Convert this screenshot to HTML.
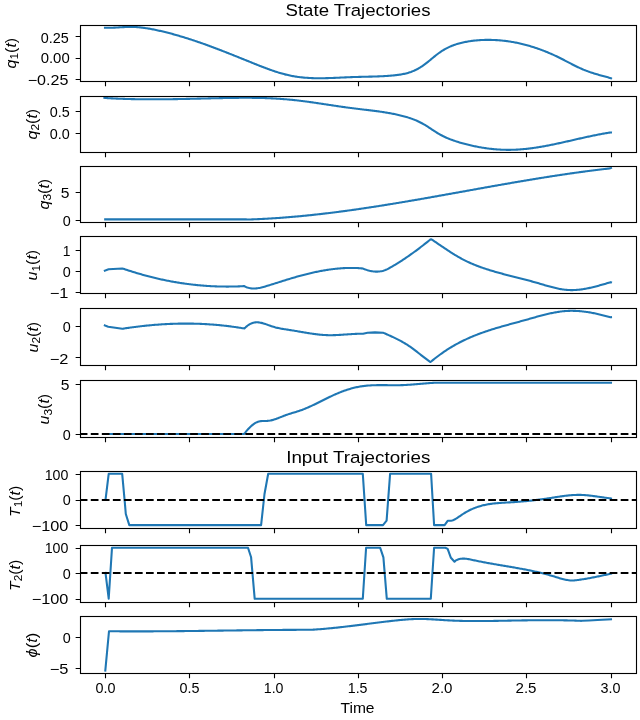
<!DOCTYPE html>
<html><head><meta charset="utf-8"><title>State and Input Trajectories</title>
<style>html,body{margin:0;padding:0;background:#fff;width:640px;height:720px;overflow:hidden}svg{display:block;will-change:transform}text{font-family:"Liberation Sans",sans-serif;fill:#000}</style></head>
<body>
<svg width="640" height="720" viewBox="0 0 640 720">
<rect x="0" y="0" width="640" height="720" fill="#fff"/>
<g>
<clipPath id="c0"><rect x="80.5" y="25.5" width="556" height="56"/></clipPath>
<path d="M104.97 27.8 L105.97 27.79 L106.97 27.81 L107.97 27.82 L108.97 27.81 L109.97 27.8 L110.97 27.77 L111.97 27.74 L112.97 27.7 L113.97 27.66 L114.97 27.61 L115.97 27.56 L116.97 27.5 L117.97 27.44 L118.97 27.38 L119.97 27.32 L120.97 27.27 L121.97 27.21 L122.97 27.15 L123.97 27.1 L124.97 27.05 L125.97 27.01 L126.97 26.98 L127.97 26.95 L128.97 26.93 L129.97 26.92 L130.97 26.92 L131.97 26.93 L132.97 26.95 L133.97 26.98 L134.97 27.02 L135.97 27.08 L136.97 27.14 L137.97 27.22 L138.97 27.3 L139.97 27.4 L140.97 27.5 L141.97 27.62 L142.97 27.74 L143.97 27.87 L144.97 28.01 L145.97 28.16 L146.97 28.31 L147.97 28.48 L148.97 28.64 L149.97 28.82 L150.97 29 L151.97 29.19 L152.97 29.38 L153.97 29.58 L154.97 29.79 L155.97 30 L156.97 30.21 L157.97 30.43 L158.97 30.65 L159.97 30.87 L160.97 31.1 L161.97 31.34 L162.97 31.57 L163.97 31.81 L164.97 32.06 L165.97 32.3 L166.97 32.56 L167.97 32.81 L168.97 33.07 L169.97 33.33 L170.97 33.59 L171.97 33.86 L172.97 34.13 L173.97 34.41 L174.97 34.69 L175.97 34.97 L176.97 35.25 L177.97 35.54 L178.97 35.83 L179.97 36.13 L180.97 36.42 L181.97 36.72 L182.97 37.02 L183.97 37.33 L184.97 37.64 L185.97 37.95 L186.97 38.26 L187.97 38.58 L188.97 38.9 L189.97 39.22 L190.97 39.55 L191.97 39.87 L192.97 40.2 L193.97 40.54 L194.97 40.87 L195.97 41.21 L196.97 41.55 L197.97 41.89 L198.97 42.24 L199.97 42.58 L200.97 42.93 L201.97 43.28 L202.97 43.64 L203.97 43.99 L204.97 44.35 L205.97 44.71 L206.97 45.07 L207.97 45.44 L208.97 45.8 L209.97 46.17 L210.97 46.54 L211.97 46.91 L212.97 47.28 L213.97 47.66 L214.97 48.03 L215.97 48.41 L216.97 48.79 L217.97 49.17 L218.97 49.56 L219.97 49.94 L220.97 50.33 L221.97 50.72 L222.97 51.1 L223.97 51.49 L224.97 51.89 L225.97 52.28 L226.97 52.67 L227.97 53.07 L228.97 53.46 L229.97 53.86 L230.97 54.26 L231.97 54.65 L232.97 55.05 L233.97 55.45 L234.97 55.85 L235.97 56.25 L236.97 56.66 L237.97 57.06 L238.97 57.46 L239.97 57.86 L240.97 58.27 L241.97 58.67 L242.97 59.07 L243.97 59.48 L244.97 59.88 L245.97 60.29 L246.97 60.69 L247.97 61.09 L248.97 61.5 L249.97 61.9 L250.97 62.31 L251.97 62.71 L252.97 63.11 L253.97 63.52 L254.97 63.92 L255.97 64.32 L256.97 64.72 L257.97 65.12 L258.97 65.51 L259.97 65.91 L260.97 66.3 L261.97 66.69 L262.97 67.08 L263.97 67.46 L264.97 67.84 L265.97 68.22 L266.97 68.59 L267.97 68.96 L268.97 69.32 L269.97 69.69 L270.97 70.04 L271.97 70.39 L272.97 70.74 L273.97 71.08 L274.97 71.41 L275.97 71.74 L276.97 72.06 L277.97 72.37 L278.97 72.68 L279.97 72.98 L280.97 73.27 L281.97 73.56 L282.97 73.84 L283.97 74.11 L284.97 74.37 L285.97 74.62 L286.97 74.86 L287.97 75.1 L288.97 75.32 L289.97 75.54 L290.97 75.74 L291.97 75.94 L292.97 76.13 L293.97 76.3 L294.97 76.47 L295.97 76.63 L296.97 76.78 L297.97 76.92 L298.97 77.05 L299.97 77.18 L300.97 77.29 L301.97 77.4 L302.97 77.5 L303.97 77.6 L304.97 77.68 L305.97 77.76 L306.97 77.83 L307.97 77.9 L308.97 77.96 L309.97 78.01 L310.97 78.06 L311.97 78.1 L312.97 78.14 L313.97 78.17 L314.97 78.19 L315.97 78.21 L316.97 78.22 L317.97 78.23 L318.97 78.24 L319.97 78.24 L320.97 78.23 L321.97 78.23 L322.97 78.22 L323.97 78.2 L324.97 78.18 L325.97 78.16 L326.97 78.14 L327.97 78.11 L328.97 78.08 L329.97 78.05 L330.97 78.01 L331.97 77.98 L332.97 77.94 L333.97 77.9 L334.97 77.85 L335.97 77.81 L336.97 77.77 L337.97 77.72 L338.97 77.68 L339.97 77.63 L340.97 77.58 L341.97 77.54 L342.97 77.49 L343.97 77.45 L344.97 77.4 L345.97 77.35 L346.97 77.31 L347.97 77.27 L348.97 77.22 L349.97 77.18 L350.97 77.14 L351.97 77.11 L352.97 77.07 L353.97 77.04 L354.97 77.01 L355.97 76.98 L356.97 76.95 L357.97 76.92 L358.97 76.9 L359.97 76.87 L360.97 76.85 L361.97 76.82 L362.97 76.8 L363.97 76.78 L364.97 76.76 L365.97 76.73 L366.97 76.71 L367.97 76.69 L368.97 76.66 L369.97 76.64 L370.97 76.61 L371.97 76.59 L372.97 76.56 L373.97 76.53 L374.97 76.5 L375.97 76.47 L376.97 76.43 L377.97 76.39 L378.97 76.36 L379.97 76.31 L380.97 76.27 L381.97 76.22 L382.97 76.17 L383.97 76.12 L384.97 76.06 L385.97 76 L386.97 75.94 L387.97 75.87 L388.97 75.8 L389.97 75.72 L390.97 75.64 L391.97 75.55 L392.97 75.46 L393.97 75.36 L394.97 75.26 L395.97 75.15 L396.97 75.03 L397.97 74.89 L398.97 74.75 L399.97 74.6 L400.97 74.44 L401.97 74.27 L402.97 74.08 L403.97 73.88 L404.97 73.66 L405.97 73.42 L406.97 73.16 L407.97 72.88 L408.97 72.58 L409.97 72.26 L410.97 71.92 L411.97 71.54 L412.97 71.14 L413.97 70.72 L414.97 70.26 L415.97 69.78 L416.97 69.27 L417.97 68.73 L418.97 68.16 L419.97 67.57 L420.97 66.95 L421.97 66.3 L422.97 65.62 L423.97 64.92 L424.97 64.19 L425.97 63.43 L426.97 62.65 L427.97 61.85 L428.97 61.03 L429.97 60.21 L430.97 59.38 L431.97 58.54 L432.97 57.71 L433.97 56.89 L434.97 56.08 L435.97 55.28 L436.97 54.5 L437.97 53.75 L438.97 53.02 L439.97 52.31 L440.97 51.64 L441.97 50.99 L442.97 50.36 L443.97 49.76 L444.97 49.18 L445.97 48.63 L446.97 48.1 L447.97 47.6 L448.97 47.12 L449.97 46.66 L450.97 46.23 L451.97 45.82 L452.97 45.43 L453.97 45.06 L454.97 44.71 L455.97 44.38 L456.97 44.07 L457.97 43.77 L458.97 43.49 L459.97 43.22 L460.97 42.97 L461.97 42.73 L462.97 42.5 L463.97 42.28 L464.97 42.07 L465.97 41.87 L466.97 41.68 L467.97 41.51 L468.97 41.34 L469.97 41.18 L470.97 41.03 L471.97 40.9 L472.97 40.77 L473.97 40.65 L474.97 40.54 L475.97 40.44 L476.97 40.35 L477.97 40.26 L478.97 40.19 L479.97 40.12 L480.97 40.06 L481.97 40.01 L482.97 39.97 L483.97 39.94 L484.97 39.91 L485.97 39.89 L486.97 39.88 L487.97 39.88 L488.97 39.88 L489.97 39.89 L490.97 39.91 L491.97 39.93 L492.97 39.96 L493.97 40 L494.97 40.05 L495.97 40.1 L496.97 40.16 L497.97 40.23 L498.97 40.3 L499.97 40.38 L500.97 40.47 L501.97 40.56 L502.97 40.67 L503.97 40.78 L504.97 40.89 L505.97 41.02 L506.97 41.15 L507.97 41.28 L508.97 41.43 L509.97 41.58 L510.97 41.74 L511.97 41.91 L512.97 42.08 L513.97 42.26 L514.97 42.44 L515.97 42.64 L516.97 42.84 L517.97 43.05 L518.97 43.26 L519.97 43.48 L520.97 43.71 L521.97 43.95 L522.97 44.19 L523.97 44.44 L524.97 44.7 L525.97 44.96 L526.97 45.23 L527.97 45.51 L528.97 45.79 L529.97 46.08 L530.97 46.38 L531.97 46.69 L532.97 47 L533.97 47.32 L534.97 47.64 L535.97 47.97 L536.97 48.31 L537.97 48.66 L538.97 49.01 L539.97 49.37 L540.97 49.74 L541.97 50.11 L542.97 50.49 L543.97 50.88 L544.97 51.28 L545.97 51.68 L546.97 52.08 L547.97 52.5 L548.97 52.92 L549.97 53.35 L550.97 53.78 L551.97 54.22 L552.97 54.67 L553.97 55.13 L554.97 55.59 L555.97 56.06 L556.97 56.53 L557.97 57.02 L558.97 57.51 L559.97 58 L560.97 58.5 L561.97 59.01 L562.97 59.53 L563.97 60.04 L564.97 60.56 L565.97 61.09 L566.97 61.61 L567.97 62.13 L568.97 62.66 L569.97 63.18 L570.97 63.7 L571.97 64.22 L572.97 64.73 L573.97 65.24 L574.97 65.74 L575.97 66.23 L576.97 66.72 L577.97 67.2 L578.97 67.67 L579.97 68.12 L580.97 68.57 L581.97 69.01 L582.97 69.43 L583.97 69.85 L584.97 70.25 L585.97 70.64 L586.97 71.02 L587.97 71.39 L588.97 71.75 L589.97 72.11 L590.97 72.45 L591.97 72.78 L592.97 73.1 L593.97 73.41 L594.97 73.72 L595.97 74.02 L596.97 74.31 L597.97 74.6 L598.97 74.88 L599.97 75.16 L600.97 75.43 L601.97 75.71 L602.97 75.98 L603.97 76.25 L604.97 76.52 L605.97 76.8 L606.97 77.08 L607.97 77.36 L608.97 77.64 L609.97 77.93 L610.97 78.23 L611 78.25" fill="none" stroke="#1f77b4" stroke-width="2.0833" stroke-linejoin="round" stroke-linecap="square" clip-path="url(#c0)"/>
<rect x="80.5" y="25.5" width="556" height="56" fill="none" stroke="#000" stroke-width="1.1111"/>
<path d="M75.64 36.5H80.5M75.64 58.5H80.5M75.64 79.5H80.5M105.5 81.5V86.36M189.5 81.5V86.36M274.5 81.5V86.36M358.5 81.5V86.36M442.5 81.5V86.36M526.5 81.5V86.36M611.5 81.5V86.36" stroke="#000" stroke-width="1.1111" fill="none"/>
</g>
<g>
<clipPath id="c1"><rect x="80.5" y="96.5" width="556" height="56"/></clipPath>
<path d="M104.4 97.9 L105.4 97.99 L106.4 98.05 L107.4 98.12 L108.4 98.17 L109.4 98.23 L110.4 98.29 L111.4 98.34 L112.4 98.39 L113.4 98.44 L114.4 98.49 L115.4 98.54 L116.4 98.59 L117.4 98.63 L118.4 98.67 L119.4 98.71 L120.4 98.75 L121.4 98.79 L122.4 98.83 L123.4 98.86 L124.4 98.9 L125.4 98.93 L126.4 98.96 L127.4 98.99 L128.4 99.02 L129.4 99.04 L130.4 99.07 L131.4 99.09 L132.4 99.12 L133.4 99.14 L134.4 99.16 L135.4 99.18 L136.4 99.19 L137.4 99.21 L138.4 99.23 L139.4 99.24 L140.4 99.25 L141.4 99.27 L142.4 99.28 L143.4 99.29 L144.4 99.29 L145.4 99.3 L146.4 99.31 L147.4 99.31 L148.4 99.32 L149.4 99.32 L150.4 99.32 L151.4 99.33 L152.4 99.33 L153.4 99.33 L154.4 99.32 L155.4 99.32 L156.4 99.32 L157.4 99.32 L158.4 99.31 L159.4 99.3 L160.4 99.3 L161.4 99.29 L162.4 99.28 L163.4 99.28 L164.4 99.27 L165.4 99.26 L166.4 99.24 L167.4 99.23 L168.4 99.22 L169.4 99.21 L170.4 99.2 L171.4 99.18 L172.4 99.17 L173.4 99.15 L174.4 99.14 L175.4 99.12 L176.4 99.1 L177.4 99.09 L178.4 99.07 L179.4 99.05 L180.4 99.03 L181.4 99.01 L182.4 98.99 L183.4 98.97 L184.4 98.95 L185.4 98.93 L186.4 98.91 L187.4 98.89 L188.4 98.87 L189.4 98.85 L190.4 98.82 L191.4 98.8 L192.4 98.78 L193.4 98.76 L194.4 98.73 L195.4 98.71 L196.4 98.69 L197.4 98.66 L198.4 98.64 L199.4 98.62 L200.4 98.59 L201.4 98.57 L202.4 98.55 L203.4 98.52 L204.4 98.5 L205.4 98.47 L206.4 98.45 L207.4 98.43 L208.4 98.4 L209.4 98.38 L210.4 98.36 L211.4 98.33 L212.4 98.31 L213.4 98.29 L214.4 98.26 L215.4 98.24 L216.4 98.22 L217.4 98.19 L218.4 98.17 L219.4 98.15 L220.4 98.13 L221.4 98.11 L222.4 98.09 L223.4 98.07 L224.4 98.05 L225.4 98.03 L226.4 98.01 L227.4 97.99 L228.4 97.97 L229.4 97.96 L230.4 97.94 L231.4 97.92 L232.4 97.91 L233.4 97.9 L234.4 97.88 L235.4 97.87 L236.4 97.86 L237.4 97.85 L238.4 97.84 L239.4 97.83 L240.4 97.83 L241.4 97.82 L242.4 97.82 L243.4 97.81 L244.4 97.81 L245.4 97.81 L246.4 97.81 L247.4 97.81 L248.4 97.81 L249.4 97.82 L250.4 97.83 L251.4 97.83 L252.4 97.84 L253.4 97.85 L254.4 97.87 L255.4 97.88 L256.4 97.89 L257.4 97.91 L258.4 97.93 L259.4 97.95 L260.4 97.97 L261.4 98 L262.4 98.03 L263.4 98.05 L264.4 98.08 L265.4 98.12 L266.4 98.15 L267.4 98.19 L268.4 98.23 L269.4 98.27 L270.4 98.31 L271.4 98.36 L272.4 98.4 L273.4 98.45 L274.4 98.51 L275.4 98.56 L276.4 98.62 L277.4 98.68 L278.4 98.74 L279.4 98.8 L280.4 98.87 L281.4 98.94 L282.4 99.01 L283.4 99.09 L284.4 99.17 L285.4 99.25 L286.4 99.33 L287.4 99.42 L288.4 99.51 L289.4 99.6 L290.4 99.69 L291.4 99.79 L292.4 99.89 L293.4 99.99 L294.4 100.1 L295.4 100.21 L296.4 100.32 L297.4 100.44 L298.4 100.55 L299.4 100.67 L300.4 100.79 L301.4 100.91 L302.4 101.04 L303.4 101.17 L304.4 101.3 L305.4 101.43 L306.4 101.56 L307.4 101.69 L308.4 101.83 L309.4 101.97 L310.4 102.11 L311.4 102.25 L312.4 102.39 L313.4 102.53 L314.4 102.67 L315.4 102.82 L316.4 102.97 L317.4 103.11 L318.4 103.26 L319.4 103.41 L320.4 103.56 L321.4 103.71 L322.4 103.86 L323.4 104.01 L324.4 104.16 L325.4 104.31 L326.4 104.46 L327.4 104.61 L328.4 104.77 L329.4 104.92 L330.4 105.07 L331.4 105.22 L332.4 105.37 L333.4 105.52 L334.4 105.67 L335.4 105.82 L336.4 105.97 L337.4 106.12 L338.4 106.27 L339.4 106.41 L340.4 106.56 L341.4 106.7 L342.4 106.85 L343.4 106.99 L344.4 107.13 L345.4 107.27 L346.4 107.41 L347.4 107.55 L348.4 107.68 L349.4 107.82 L350.4 107.95 L351.4 108.08 L352.4 108.21 L353.4 108.34 L354.4 108.46 L355.4 108.59 L356.4 108.71 L357.4 108.83 L358.4 108.95 L359.4 109.07 L360.4 109.19 L361.4 109.31 L362.4 109.42 L363.4 109.54 L364.4 109.66 L365.4 109.78 L366.4 109.89 L367.4 110.01 L368.4 110.13 L369.4 110.25 L370.4 110.37 L371.4 110.5 L372.4 110.62 L373.4 110.75 L374.4 110.87 L375.4 111 L376.4 111.13 L377.4 111.27 L378.4 111.4 L379.4 111.54 L380.4 111.69 L381.4 111.83 L382.4 111.98 L383.4 112.13 L384.4 112.29 L385.4 112.45 L386.4 112.61 L387.4 112.78 L388.4 112.95 L389.4 113.13 L390.4 113.31 L391.4 113.49 L392.4 113.69 L393.4 113.88 L394.4 114.08 L395.4 114.29 L396.4 114.5 L397.4 114.72 L398.4 114.95 L399.4 115.18 L400.4 115.42 L401.4 115.66 L402.4 115.92 L403.4 116.18 L404.4 116.45 L405.4 116.72 L406.4 117.01 L407.4 117.31 L408.4 117.62 L409.4 117.94 L410.4 118.28 L411.4 118.63 L412.4 118.99 L413.4 119.36 L414.4 119.75 L415.4 120.16 L416.4 120.58 L417.4 121.02 L418.4 121.48 L419.4 121.95 L420.4 122.45 L421.4 122.96 L422.4 123.49 L423.4 124.04 L424.4 124.62 L425.4 125.21 L426.4 125.83 L427.4 126.46 L428.4 127.11 L429.4 127.77 L430.4 128.44 L431.4 129.1 L432.4 129.77 L433.4 130.44 L434.4 131.1 L435.4 131.74 L436.4 132.38 L437.4 133 L438.4 133.59 L439.4 134.17 L440.4 134.73 L441.4 135.26 L442.4 135.78 L443.4 136.29 L444.4 136.77 L445.4 137.24 L446.4 137.69 L447.4 138.12 L448.4 138.55 L449.4 138.95 L450.4 139.35 L451.4 139.73 L452.4 140.1 L453.4 140.45 L454.4 140.8 L455.4 141.13 L456.4 141.46 L457.4 141.77 L458.4 142.08 L459.4 142.38 L460.4 142.67 L461.4 142.96 L462.4 143.24 L463.4 143.51 L464.4 143.78 L465.4 144.05 L466.4 144.3 L467.4 144.56 L468.4 144.8 L469.4 145.04 L470.4 145.28 L471.4 145.51 L472.4 145.73 L473.4 145.95 L474.4 146.17 L475.4 146.37 L476.4 146.58 L477.4 146.77 L478.4 146.96 L479.4 147.15 L480.4 147.33 L481.4 147.5 L482.4 147.67 L483.4 147.83 L484.4 147.98 L485.4 148.13 L486.4 148.27 L487.4 148.41 L488.4 148.54 L489.4 148.67 L490.4 148.79 L491.4 148.9 L492.4 149.01 L493.4 149.11 L494.4 149.2 L495.4 149.29 L496.4 149.37 L497.4 149.45 L498.4 149.52 L499.4 149.58 L500.4 149.64 L501.4 149.69 L502.4 149.73 L503.4 149.77 L504.4 149.8 L505.4 149.82 L506.4 149.84 L507.4 149.85 L508.4 149.86 L509.4 149.86 L510.4 149.85 L511.4 149.83 L512.4 149.81 L513.4 149.78 L514.4 149.75 L515.4 149.71 L516.4 149.66 L517.4 149.61 L518.4 149.55 L519.4 149.48 L520.4 149.41 L521.4 149.33 L522.4 149.25 L523.4 149.16 L524.4 149.06 L525.4 148.96 L526.4 148.86 L527.4 148.75 L528.4 148.63 L529.4 148.51 L530.4 148.38 L531.4 148.25 L532.4 148.12 L533.4 147.98 L534.4 147.84 L535.4 147.69 L536.4 147.54 L537.4 147.38 L538.4 147.22 L539.4 147.06 L540.4 146.89 L541.4 146.72 L542.4 146.54 L543.4 146.36 L544.4 146.18 L545.4 146 L546.4 145.81 L547.4 145.62 L548.4 145.43 L549.4 145.23 L550.4 145.03 L551.4 144.83 L552.4 144.63 L553.4 144.42 L554.4 144.21 L555.4 144 L556.4 143.79 L557.4 143.58 L558.4 143.36 L559.4 143.14 L560.4 142.92 L561.4 142.7 L562.4 142.48 L563.4 142.26 L564.4 142.03 L565.4 141.81 L566.4 141.58 L567.4 141.36 L568.4 141.13 L569.4 140.9 L570.4 140.67 L571.4 140.44 L572.4 140.22 L573.4 139.99 L574.4 139.76 L575.4 139.53 L576.4 139.3 L577.4 139.07 L578.4 138.85 L579.4 138.62 L580.4 138.39 L581.4 138.17 L582.4 137.94 L583.4 137.72 L584.4 137.5 L585.4 137.27 L586.4 137.05 L587.4 136.84 L588.4 136.62 L589.4 136.4 L590.4 136.19 L591.4 135.98 L592.4 135.77 L593.4 135.56 L594.4 135.36 L595.4 135.15 L596.4 134.95 L597.4 134.76 L598.4 134.56 L599.4 134.37 L600.4 134.18 L601.4 133.99 L602.4 133.81 L603.4 133.63 L604.4 133.45 L605.4 133.28 L606.4 133.11 L607.4 132.94 L608.4 132.78 L609.4 132.62 L610.4 132.47 L611 132.5" fill="none" stroke="#1f77b4" stroke-width="2.0833" stroke-linejoin="round" stroke-linecap="square" clip-path="url(#c1)"/>
<rect x="80.5" y="96.5" width="556" height="56" fill="none" stroke="#000" stroke-width="1.1111"/>
<path d="M75.64 111.5H80.5M75.64 133.5H80.5M105.5 152.5V157.36M189.5 152.5V157.36M274.5 152.5V157.36M358.5 152.5V157.36M442.5 152.5V157.36M526.5 152.5V157.36M611.5 152.5V157.36" stroke="#000" stroke-width="1.1111" fill="none"/>
</g>
<g>
<clipPath id="c2"><rect x="80.5" y="166.5" width="556" height="56"/></clipPath>
<path d="M105.2 219.4 L150 219.4 L200 219.4 L246 219.4 L247 219.55 L248 219.52 L249 219.49 L250 219.45 L251 219.42 L252 219.38 L253 219.35 L254 219.31 L255 219.27 L256 219.23 L257 219.18 L258 219.14 L259 219.1 L260 219.05 L261 219 L262 218.95 L263 218.9 L264 218.85 L265 218.8 L266 218.74 L267 218.69 L268 218.63 L269 218.57 L270 218.51 L271 218.45 L272 218.39 L273 218.33 L274 218.26 L275 218.2 L276 218.13 L277 218.06 L278 217.99 L279 217.92 L280 217.85 L281 217.78 L282 217.71 L283 217.63 L284 217.56 L285 217.48 L286 217.4 L287 217.32 L288 217.24 L289 217.16 L290 217.07 L291 216.99 L292 216.91 L293 216.82 L294 216.73 L295 216.64 L296 216.55 L297 216.46 L298 216.37 L299 216.28 L300 216.19 L301 216.09 L302 216 L303 215.9 L304 215.8 L305 215.7 L306 215.6 L307 215.5 L308 215.4 L309 215.3 L310 215.19 L311 215.09 L312 214.98 L313 214.87 L314 214.77 L315 214.66 L316 214.55 L317 214.44 L318 214.33 L319 214.21 L320 214.1 L321 213.99 L322 213.87 L323 213.75 L324 213.64 L325 213.52 L326 213.4 L327 213.28 L328 213.16 L329 213.04 L330 212.92 L331 212.79 L332 212.67 L333 212.54 L334 212.42 L335 212.29 L336 212.16 L337 212.04 L338 211.91 L339 211.78 L340 211.65 L341 211.52 L342 211.38 L343 211.25 L344 211.12 L345 210.98 L346 210.85 L347 210.71 L348 210.57 L349 210.44 L350 210.3 L351 210.16 L352 210.02 L353 209.88 L354 209.74 L355 209.6 L356 209.45 L357 209.31 L358 209.17 L359 209.02 L360 208.88 L361 208.73 L362 208.58 L363 208.44 L364 208.29 L365 208.14 L366 207.99 L367 207.84 L368 207.69 L369 207.54 L370 207.39 L371 207.24 L372 207.08 L373 206.93 L374 206.78 L375 206.62 L376 206.47 L377 206.31 L378 206.16 L379 206 L380 205.84 L381 205.68 L382 205.53 L383 205.37 L384 205.21 L385 205.05 L386 204.89 L387 204.73 L388 204.56 L389 204.4 L390 204.24 L391 204.08 L392 203.91 L393 203.75 L394 203.59 L395 203.42 L396 203.26 L397 203.09 L398 202.93 L399 202.76 L400 202.59 L401 202.42 L402 202.26 L403 202.09 L404 201.92 L405 201.75 L406 201.58 L407 201.41 L408 201.24 L409 201.07 L410 200.9 L411 200.73 L412 200.56 L413 200.39 L414 200.22 L415 200.04 L416 199.87 L417 199.7 L418 199.53 L419 199.35 L420 199.18 L421 199 L422 198.83 L423 198.66 L424 198.48 L425 198.31 L426 198.13 L427 197.96 L428 197.78 L429 197.6 L430 197.43 L431 197.25 L432 197.07 L433 196.9 L434 196.72 L435 196.54 L436 196.37 L437 196.19 L438 196.01 L439 195.83 L440 195.65 L441 195.48 L442 195.3 L443 195.12 L444 194.94 L445 194.76 L446 194.58 L447 194.4 L448 194.22 L449 194.04 L450 193.87 L451 193.69 L452 193.51 L453 193.33 L454 193.15 L455 192.97 L456 192.79 L457 192.61 L458 192.43 L459 192.25 L460 192.07 L461 191.89 L462 191.71 L463 191.53 L464 191.35 L465 191.17 L466 190.99 L467 190.81 L468 190.63 L469 190.45 L470 190.27 L471 190.09 L472 189.91 L473 189.73 L474 189.55 L475 189.37 L476 189.19 L477 189.01 L478 188.83 L479 188.65 L480 188.47 L481 188.29 L482 188.11 L483 187.94 L484 187.76 L485 187.58 L486 187.4 L487 187.22 L488 187.04 L489 186.86 L490 186.69 L491 186.51 L492 186.33 L493 186.15 L494 185.98 L495 185.8 L496 185.62 L497 185.45 L498 185.27 L499 185.09 L500 184.92 L501 184.74 L502 184.57 L503 184.39 L504 184.22 L505 184.04 L506 183.87 L507 183.69 L508 183.52 L509 183.35 L510 183.17 L511 183 L512 182.83 L513 182.65 L514 182.48 L515 182.31 L516 182.14 L517 181.97 L518 181.8 L519 181.63 L520 181.46 L521 181.29 L522 181.12 L523 180.95 L524 180.78 L525 180.61 L526 180.44 L527 180.28 L528 180.11 L529 179.94 L530 179.78 L531 179.61 L532 179.44 L533 179.28 L534 179.12 L535 178.95 L536 178.79 L537 178.62 L538 178.46 L539 178.3 L540 178.14 L541 177.98 L542 177.82 L543 177.66 L544 177.5 L545 177.34 L546 177.18 L547 177.02 L548 176.86 L549 176.71 L550 176.55 L551 176.39 L552 176.24 L553 176.08 L554 175.93 L555 175.77 L556 175.62 L557 175.47 L558 175.32 L559 175.17 L560 175.01 L561 174.86 L562 174.72 L563 174.57 L564 174.42 L565 174.27 L566 174.12 L567 173.98 L568 173.83 L569 173.69 L570 173.54 L571 173.4 L572 173.26 L573 173.11 L574 172.97 L575 172.83 L576 172.69 L577 172.55 L578 172.41 L579 172.27 L580 172.14 L581 172 L582 171.87 L583 171.73 L584 171.6 L585 171.46 L586 171.33 L587 171.2 L588 171.07 L589 170.94 L590 170.81 L591 170.68 L592 170.55 L593 170.42 L594 170.3 L595 170.17 L596 170.05 L597 169.92 L598 169.8 L599 169.68 L600 169.56 L601 169.44 L602 169.32 L603 169.2 L604 169.08 L605 168.97 L606 168.85 L607 168.73 L608 168.62 L609 168.51 L610 168.4 L611 168" fill="none" stroke="#1f77b4" stroke-width="2.0833" stroke-linejoin="round" stroke-linecap="square" clip-path="url(#c2)"/>
<rect x="80.5" y="166.5" width="556" height="56" fill="none" stroke="#000" stroke-width="1.1111"/>
<path d="M75.64 192.5H80.5M75.64 220.5H80.5M105.5 222.5V227.36M189.5 222.5V227.36M274.5 222.5V227.36M358.5 222.5V227.36M442.5 222.5V227.36M526.5 222.5V227.36M611.5 222.5V227.36" stroke="#000" stroke-width="1.1111" fill="none"/>
</g>
<g>
<clipPath id="c3"><rect x="80.5" y="236.5" width="556" height="57"/></clipPath>
<path d="M104.84 270.66 L108.6 269.3 L122.3 268.55 L123.3 268.71 L124.3 269.05 L125.3 269.39 L126.3 269.73 L127.3 270.06 L128.3 270.39 L129.3 270.72 L130.3 271.04 L131.3 271.36 L132.3 271.67 L133.3 271.99 L134.3 272.3 L135.3 272.6 L136.3 272.91 L137.3 273.21 L138.3 273.5 L139.3 273.79 L140.3 274.08 L141.3 274.37 L142.3 274.65 L143.3 274.93 L144.3 275.21 L145.3 275.48 L146.3 275.75 L147.3 276.02 L148.3 276.28 L149.3 276.54 L150.3 276.8 L151.3 277.05 L152.3 277.3 L153.3 277.55 L154.3 277.79 L155.3 278.03 L156.3 278.27 L157.3 278.5 L158.3 278.73 L159.3 278.96 L160.3 279.18 L161.3 279.4 L162.3 279.62 L163.3 279.83 L164.3 280.04 L165.3 280.25 L166.3 280.45 L167.3 280.65 L168.3 280.85 L169.3 281.04 L170.3 281.23 L171.3 281.42 L172.3 281.6 L173.3 281.78 L174.3 281.96 L175.3 282.13 L176.3 282.3 L177.3 282.47 L178.3 282.64 L179.3 282.8 L180.3 282.95 L181.3 283.11 L182.3 283.26 L183.3 283.4 L184.3 283.55 L185.3 283.69 L186.3 283.83 L187.3 283.96 L188.3 284.09 L189.3 284.22 L190.3 284.34 L191.3 284.46 L192.3 284.58 L193.3 284.69 L194.3 284.8 L195.3 284.91 L196.3 285.01 L197.3 285.12 L198.3 285.21 L199.3 285.31 L200.3 285.4 L201.3 285.48 L202.3 285.57 L203.3 285.65 L204.3 285.73 L205.3 285.8 L206.3 285.87 L207.3 285.94 L208.3 286 L209.3 286.06 L210.3 286.12 L211.3 286.18 L212.3 286.23 L213.3 286.27 L214.3 286.32 L215.3 286.36 L216.3 286.4 L217.3 286.43 L218.3 286.46 L219.3 286.49 L220.3 286.51 L221.3 286.53 L222.3 286.55 L223.3 286.57 L224.3 286.58 L225.3 286.58 L226.3 286.59 L227.3 286.59 L228.3 286.59 L229.3 286.58 L230.3 286.57 L231.3 286.56 L232.3 286.54 L233.3 286.52 L234.3 286.5 L235.3 286.48 L236.3 286.45 L237.3 286.42 L238.3 286.38 L239.3 286.34 L240.3 286.3 L241.3 286.25 L242.3 286.2 L243.3 286.15 L244.3 286.1 L244.4 286.2 L245.4 286.72 L246.4 287.15 L247.4 287.5 L248.4 287.8 L249.4 288.04 L250.4 288.23 L251.4 288.36 L252.4 288.45 L253.4 288.49 L254.4 288.48 L255.4 288.44 L256.4 288.35 L257.4 288.24 L258.4 288.09 L259.4 287.91 L260.4 287.71 L261.4 287.48 L262.4 287.23 L263.4 286.97 L264.4 286.69 L265.4 286.4 L266.4 286.11 L267.4 285.81 L268.4 285.5 L269.4 285.19 L270.4 284.88 L271.4 284.57 L272.4 284.26 L273.4 283.95 L274.4 283.63 L275.4 283.32 L276.4 283 L277.4 282.69 L278.4 282.37 L279.4 282.05 L280.4 281.74 L281.4 281.42 L282.4 281.11 L283.4 280.79 L284.4 280.48 L285.4 280.17 L286.4 279.86 L287.4 279.55 L288.4 279.24 L289.4 278.94 L290.4 278.63 L291.4 278.33 L292.4 278.04 L293.4 277.74 L294.4 277.45 L295.4 277.16 L296.4 276.87 L297.4 276.59 L298.4 276.31 L299.4 276.03 L300.4 275.76 L301.4 275.49 L302.4 275.22 L303.4 274.96 L304.4 274.7 L305.4 274.44 L306.4 274.19 L307.4 273.94 L308.4 273.69 L309.4 273.45 L310.4 273.21 L311.4 272.98 L312.4 272.75 L313.4 272.52 L314.4 272.3 L315.4 272.09 L316.4 271.88 L317.4 271.67 L318.4 271.47 L319.4 271.27 L320.4 271.07 L321.4 270.89 L322.4 270.7 L323.4 270.53 L324.4 270.35 L325.4 270.19 L326.4 270.02 L327.4 269.87 L328.4 269.71 L329.4 269.57 L330.4 269.43 L331.4 269.29 L332.4 269.17 L333.4 269.04 L334.4 268.93 L335.4 268.82 L336.4 268.71 L337.4 268.61 L338.4 268.52 L339.4 268.44 L340.4 268.36 L341.4 268.28 L342.4 268.22 L343.4 268.16 L344.4 268.11 L345.4 268.06 L346.4 268.02 L347.4 267.99 L348.4 267.97 L349.4 267.95 L350.4 267.94 L351.4 267.94 L352.4 267.94 L353.4 267.96 L354.4 267.98 L355.4 268 L356.4 268.04 L357.4 268.08 L358.4 268.13 L359.4 268.19 L360.4 268.26 L361.4 268.34 L362.4 268.42 L362.5 268.4 L363.5 268.82 L364.5 269.2 L365.5 269.55 L366.5 269.88 L367.5 270.19 L368.5 270.47 L369.5 270.73 L370.5 270.95 L371.5 271.15 L372.5 271.31 L373.5 271.44 L374.5 271.54 L375.5 271.6 L376.5 271.63 L377.5 271.62 L378.5 271.56 L379.5 271.47 L380.5 271.34 L381.5 271.16 L382.5 270.94 L383.5 270.67 L384.5 270.36 L385.5 270 L386.5 269.58 L387.5 269.1 L388.5 268.54 L389.5 267.99 L390.5 267.43 L391.5 266.87 L392.5 266.29 L393.5 265.71 L394.5 265.12 L395.5 264.52 L396.5 263.92 L397.5 263.31 L398.5 262.68 L399.5 262.05 L400.5 261.42 L401.5 260.77 L402.5 260.12 L403.5 259.46 L404.5 258.8 L405.5 258.12 L406.5 257.45 L407.5 256.76 L408.5 256.07 L409.5 255.37 L410.5 254.66 L411.5 253.95 L412.5 253.23 L413.5 252.51 L414.5 251.78 L415.5 251.05 L416.5 250.3 L417.5 249.56 L418.5 248.81 L419.5 248.05 L420.5 247.29 L421.5 246.52 L422.5 245.75 L423.5 244.97 L424.5 244.19 L425.5 243.41 L426.5 242.62 L427.5 241.82 L428.5 241.03 L429.5 240.22 L430.5 239.42 L430.75 239.25 L431.75 239.57 L432.75 240.23 L433.75 240.9 L434.75 241.57 L435.75 242.24 L436.75 242.92 L437.75 243.59 L438.75 244.27 L439.75 244.95 L440.75 245.62 L441.75 246.3 L442.75 246.97 L443.75 247.64 L444.75 248.32 L445.75 248.98 L446.75 249.65 L447.75 250.31 L448.75 250.96 L449.75 251.61 L450.75 252.26 L451.75 252.9 L452.75 253.53 L453.75 254.15 L454.75 254.77 L455.75 255.38 L456.75 255.98 L457.75 256.57 L458.75 257.15 L459.75 257.72 L460.75 258.28 L461.75 258.83 L462.75 259.36 L463.75 259.88 L464.75 260.39 L465.75 260.89 L466.75 261.38 L467.75 261.86 L468.75 262.32 L469.75 262.78 L470.75 263.22 L471.75 263.66 L472.75 264.08 L473.75 264.5 L474.75 264.9 L475.75 265.3 L476.75 265.69 L477.75 266.07 L478.75 266.45 L479.75 266.82 L480.75 267.18 L481.75 267.53 L482.75 267.88 L483.75 268.22 L484.75 268.55 L485.75 268.88 L486.75 269.21 L487.75 269.53 L488.75 269.84 L489.75 270.15 L490.75 270.46 L491.75 270.76 L492.75 271.06 L493.75 271.36 L494.75 271.65 L495.75 271.94 L496.75 272.22 L497.75 272.51 L498.75 272.78 L499.75 273.06 L500.75 273.34 L501.75 273.61 L502.75 273.88 L503.75 274.14 L504.75 274.41 L505.75 274.67 L506.75 274.93 L507.75 275.19 L508.75 275.45 L509.75 275.71 L510.75 275.96 L511.75 276.22 L512.75 276.47 L513.75 276.73 L514.75 276.98 L515.75 277.24 L516.75 277.49 L517.75 277.74 L518.75 278 L519.75 278.25 L520.75 278.5 L521.75 278.76 L522.75 279.02 L523.75 279.27 L524.75 279.53 L525.75 279.79 L526.75 280.05 L527.75 280.31 L528.75 280.58 L529.75 280.85 L530.75 281.11 L531.75 281.38 L532.75 281.66 L533.75 281.93 L534.75 282.21 L535.75 282.49 L536.75 282.78 L537.75 283.06 L538.75 283.36 L539.75 283.65 L540.75 283.94 L541.75 284.24 L542.75 284.53 L543.75 284.83 L544.75 285.13 L545.75 285.42 L546.75 285.71 L547.75 285.99 L548.75 286.28 L549.75 286.56 L550.75 286.83 L551.75 287.1 L552.75 287.36 L553.75 287.61 L554.75 287.85 L555.75 288.09 L556.75 288.32 L557.75 288.53 L558.75 288.74 L559.75 288.93 L560.75 289.11 L561.75 289.28 L562.75 289.43 L563.75 289.57 L564.75 289.7 L565.75 289.81 L566.75 289.9 L567.75 289.97 L568.75 290.03 L569.75 290.07 L570.75 290.09 L571.75 290.1 L572.75 290.09 L573.75 290.06 L574.75 290.02 L575.75 289.97 L576.75 289.9 L577.75 289.81 L578.75 289.72 L579.75 289.61 L580.75 289.49 L581.75 289.35 L582.75 289.21 L583.75 289.05 L584.75 288.88 L585.75 288.7 L586.75 288.51 L587.75 288.32 L588.75 288.11 L589.75 287.89 L590.75 287.67 L591.75 287.44 L592.75 287.2 L593.75 286.95 L594.75 286.7 L595.75 286.44 L596.75 286.18 L597.75 285.91 L598.75 285.64 L599.75 285.36 L600.75 285.08 L601.75 284.79 L602.75 284.51 L603.75 284.22 L604.75 283.92 L605.75 283.63 L606.75 283.33 L607.75 283.04 L608.75 282.74 L609.75 282.44 L610.75 282.15 L611 282.25" fill="none" stroke="#1f77b4" stroke-width="2.0833" stroke-linejoin="round" stroke-linecap="square" clip-path="url(#c3)"/>
<rect x="80.5" y="236.5" width="556" height="57" fill="none" stroke="#000" stroke-width="1.1111"/>
<path d="M75.64 250.5H80.5M75.64 271.5H80.5M75.64 292.5H80.5M105.5 293.5V298.36M189.5 293.5V298.36M274.5 293.5V298.36M358.5 293.5V298.36M442.5 293.5V298.36M526.5 293.5V298.36M611.5 293.5V298.36" stroke="#000" stroke-width="1.1111" fill="none"/>
</g>
<g>
<clipPath id="c4"><rect x="80.5" y="308.5" width="556" height="57"/></clipPath>
<path d="M104.84 325.4 L108.2 326.7 L122.3 328.7 L123.3 328.6 L124.3 328.45 L125.3 328.3 L126.3 328.15 L127.3 328 L128.3 327.86 L129.3 327.71 L130.3 327.57 L131.3 327.43 L132.3 327.3 L133.3 327.17 L134.3 327.03 L135.3 326.91 L136.3 326.78 L137.3 326.66 L138.3 326.53 L139.3 326.41 L140.3 326.3 L141.3 326.18 L142.3 326.07 L143.3 325.96 L144.3 325.85 L145.3 325.75 L146.3 325.64 L147.3 325.54 L148.3 325.45 L149.3 325.35 L150.3 325.26 L151.3 325.17 L152.3 325.08 L153.3 324.99 L154.3 324.91 L155.3 324.83 L156.3 324.75 L157.3 324.67 L158.3 324.6 L159.3 324.53 L160.3 324.46 L161.3 324.39 L162.3 324.33 L163.3 324.27 L164.3 324.21 L165.3 324.15 L166.3 324.1 L167.3 324.05 L168.3 324 L169.3 323.96 L170.3 323.91 L171.3 323.87 L172.3 323.84 L173.3 323.8 L174.3 323.77 L175.3 323.74 L176.3 323.71 L177.3 323.69 L178.3 323.66 L179.3 323.65 L180.3 323.63 L181.3 323.61 L182.3 323.6 L183.3 323.6 L184.3 323.59 L185.3 323.59 L186.3 323.59 L187.3 323.59 L188.3 323.59 L189.3 323.6 L190.3 323.61 L191.3 323.63 L192.3 323.64 L193.3 323.66 L194.3 323.68 L195.3 323.71 L196.3 323.73 L197.3 323.76 L198.3 323.8 L199.3 323.83 L200.3 323.87 L201.3 323.91 L202.3 323.96 L203.3 324 L204.3 324.05 L205.3 324.11 L206.3 324.16 L207.3 324.22 L208.3 324.28 L209.3 324.35 L210.3 324.42 L211.3 324.49 L212.3 324.56 L213.3 324.64 L214.3 324.71 L215.3 324.8 L216.3 324.88 L217.3 324.97 L218.3 325.06 L219.3 325.16 L220.3 325.25 L221.3 325.35 L222.3 325.46 L223.3 325.56 L224.3 325.67 L225.3 325.78 L226.3 325.9 L227.3 326.02 L228.3 326.14 L229.3 326.26 L230.3 326.39 L231.3 326.52 L232.3 326.66 L233.3 326.79 L234.3 326.93 L235.3 327.08 L236.3 327.22 L237.3 327.37 L238.3 327.52 L239.3 327.68 L240.3 327.84 L241.3 328 L242.3 328.17 L243.3 328.33 L244.3 328.51 L244.4 328.4 L245.4 327.52 L246.4 326.59 L247.4 325.76 L248.4 325.03 L249.4 324.4 L250.4 323.85 L251.4 323.4 L252.4 323.03 L253.4 322.75 L254.4 322.54 L255.4 322.4 L256.4 322.33 L257.4 322.33 L258.4 322.38 L259.4 322.5 L260.4 322.66 L261.4 322.87 L262.4 323.12 L263.4 323.4 L264.4 323.71 L265.4 324.04 L266.4 324.39 L267.4 324.75 L268.4 325.11 L269.4 325.48 L270.4 325.84 L271.4 326.19 L272.4 326.52 L273.4 326.83 L274.4 327.12 L275.4 327.39 L276.4 327.64 L277.4 327.88 L278.4 328.1 L279.4 328.31 L280.4 328.5 L281.4 328.68 L282.4 328.86 L283.4 329.02 L284.4 329.19 L285.4 329.34 L286.4 329.49 L287.4 329.64 L288.4 329.79 L289.4 329.95 L290.4 330.1 L291.4 330.26 L292.4 330.42 L293.4 330.58 L294.4 330.75 L295.4 330.92 L296.4 331.09 L297.4 331.26 L298.4 331.43 L299.4 331.61 L300.4 331.78 L301.4 331.95 L302.4 332.13 L303.4 332.3 L304.4 332.47 L305.4 332.64 L306.4 332.8 L307.4 332.97 L308.4 333.13 L309.4 333.29 L310.4 333.44 L311.4 333.59 L312.4 333.74 L313.4 333.88 L314.4 334.01 L315.4 334.14 L316.4 334.27 L317.4 334.39 L318.4 334.5 L319.4 334.6 L320.4 334.7 L321.4 334.79 L322.4 334.87 L323.4 334.94 L324.4 335.01 L325.4 335.06 L326.4 335.11 L327.4 335.14 L328.4 335.17 L329.4 335.18 L330.4 335.19 L331.4 335.18 L332.4 335.17 L333.4 335.15 L334.4 335.12 L335.4 335.09 L336.4 335.05 L337.4 335 L338.4 334.95 L339.4 334.9 L340.4 334.84 L341.4 334.78 L342.4 334.71 L343.4 334.65 L344.4 334.58 L345.4 334.51 L346.4 334.44 L347.4 334.37 L348.4 334.3 L349.4 334.24 L350.4 334.17 L351.4 334.11 L352.4 334.05 L353.4 333.99 L354.4 333.94 L355.4 333.89 L356.4 333.85 L357.4 333.81 L358.4 333.78 L359.4 333.76 L360.4 333.74 L361.4 333.73 L362.4 333.73 L363.1 333.75 L367.5 332.75 L375 332.4 L383.1 332.75 L384.1 333.15 L385.1 333.58 L386.1 334.01 L387.1 334.45 L388.1 334.89 L389.1 335.33 L390.1 335.77 L391.1 336.23 L392.1 336.69 L393.1 337.15 L394.1 337.62 L395.1 338.1 L396.1 338.59 L397.1 339.09 L398.1 339.6 L399.1 340.12 L400.1 340.65 L401.1 341.2 L402.1 341.75 L403.1 342.32 L404.1 342.9 L405.1 343.5 L406.1 344.11 L407.1 344.74 L408.1 345.38 L409.1 346.04 L410.1 346.72 L411.1 347.42 L412.1 348.13 L413.1 348.87 L414.1 349.62 L415.1 350.38 L416.1 351.15 L417.1 351.93 L418.1 352.71 L419.1 353.5 L420.1 354.29 L421.1 355.08 L422.1 355.87 L423.1 356.65 L424.1 357.42 L425.1 358.19 L426.1 358.94 L427.1 359.68 L428.1 360.4 L429.1 361.11 L430.1 361.79 L430.5 362 L431.5 361.25 L432.5 360.42 L433.5 359.6 L434.5 358.8 L435.5 358.01 L436.5 357.23 L437.5 356.47 L438.5 355.71 L439.5 354.97 L440.5 354.25 L441.5 353.53 L442.5 352.83 L443.5 352.14 L444.5 351.46 L445.5 350.79 L446.5 350.13 L447.5 349.48 L448.5 348.85 L449.5 348.22 L450.5 347.61 L451.5 347.01 L452.5 346.41 L453.5 345.83 L454.5 345.26 L455.5 344.7 L456.5 344.14 L457.5 343.6 L458.5 343.06 L459.5 342.54 L460.5 342.02 L461.5 341.52 L462.5 341.02 L463.5 340.53 L464.5 340.04 L465.5 339.57 L466.5 339.11 L467.5 338.65 L468.5 338.2 L469.5 337.76 L470.5 337.32 L471.5 336.89 L472.5 336.47 L473.5 336.06 L474.5 335.65 L475.5 335.25 L476.5 334.86 L477.5 334.47 L478.5 334.09 L479.5 333.71 L480.5 333.34 L481.5 332.98 L482.5 332.62 L483.5 332.26 L484.5 331.91 L485.5 331.57 L486.5 331.23 L487.5 330.9 L488.5 330.57 L489.5 330.24 L490.5 329.92 L491.5 329.6 L492.5 329.29 L493.5 328.98 L494.5 328.67 L495.5 328.37 L496.5 328.07 L497.5 327.77 L498.5 327.47 L499.5 327.18 L500.5 326.89 L501.5 326.61 L502.5 326.32 L503.5 326.04 L504.5 325.76 L505.5 325.48 L506.5 325.2 L507.5 324.92 L508.5 324.65 L509.5 324.37 L510.5 324.1 L511.5 323.83 L512.5 323.55 L513.5 323.28 L514.5 323.01 L515.5 322.74 L516.5 322.47 L517.5 322.19 L518.5 321.92 L519.5 321.65 L520.5 321.37 L521.5 321.1 L522.5 320.82 L523.5 320.55 L524.5 320.27 L525.5 319.99 L526.5 319.7 L527.5 319.42 L528.5 319.14 L529.5 318.85 L530.5 318.57 L531.5 318.28 L532.5 318 L533.5 317.72 L534.5 317.43 L535.5 317.15 L536.5 316.87 L537.5 316.6 L538.5 316.32 L539.5 316.05 L540.5 315.78 L541.5 315.52 L542.5 315.26 L543.5 315 L544.5 314.75 L545.5 314.5 L546.5 314.26 L547.5 314.02 L548.5 313.79 L549.5 313.56 L550.5 313.35 L551.5 313.13 L552.5 312.93 L553.5 312.73 L554.5 312.54 L555.5 312.36 L556.5 312.19 L557.5 312.02 L558.5 311.87 L559.5 311.72 L560.5 311.59 L561.5 311.46 L562.5 311.34 L563.5 311.24 L564.5 311.14 L565.5 311.06 L566.5 310.99 L567.5 310.93 L568.5 310.89 L569.5 310.85 L570.5 310.83 L571.5 310.82 L572.5 310.82 L573.5 310.84 L574.5 310.86 L575.5 310.89 L576.5 310.94 L577.5 311 L578.5 311.06 L579.5 311.14 L580.5 311.22 L581.5 311.32 L582.5 311.42 L583.5 311.54 L584.5 311.66 L585.5 311.79 L586.5 311.93 L587.5 312.08 L588.5 312.24 L589.5 312.4 L590.5 312.58 L591.5 312.76 L592.5 312.94 L593.5 313.14 L594.5 313.34 L595.5 313.55 L596.5 313.76 L597.5 313.98 L598.5 314.2 L599.5 314.44 L600.5 314.67 L601.5 314.92 L602.5 315.16 L603.5 315.41 L604.5 315.67 L605.5 315.93 L606.5 316.2 L607.5 316.47 L608.5 316.74 L609.5 317.02 L610.5 317.3 L611 317.25" fill="none" stroke="#1f77b4" stroke-width="2.0833" stroke-linejoin="round" stroke-linecap="square" clip-path="url(#c4)"/>
<rect x="80.5" y="308.5" width="556" height="57" fill="none" stroke="#000" stroke-width="1.1111"/>
<path d="M75.64 326.5H80.5M75.64 357.5H80.5M105.5 365.5V370.36M189.5 365.5V370.36M274.5 365.5V370.36M358.5 365.5V370.36M442.5 365.5V370.36M526.5 365.5V370.36M611.5 365.5V370.36" stroke="#000" stroke-width="1.1111" fill="none"/>
</g>
<g>
<clipPath id="c5"><rect x="80.5" y="380.5" width="556" height="57"/></clipPath>
<path d="M105.5 434 L175 434 L244 434 L245 432.85 L246 431.62 L247 430.44 L248 429.3 L249 428.23 L250 427.22 L251 426.27 L252 425.39 L253 424.58 L254 423.85 L255 423.2 L256 422.64 L257 422.16 L258 421.78 L259 421.49 L260 421.28 L261 421.14 L262 421.05 L263 421 L264 420.97 L265 420.96 L266 420.94 L267 420.91 L268 420.84 L269 420.72 L270 420.57 L271 420.37 L272 420.14 L273 419.88 L274 419.58 L275 419.26 L276 418.92 L277 418.56 L278 418.19 L279 417.8 L280 417.4 L281 417 L282 416.6 L283 416.2 L284 415.81 L285 415.43 L286 415.06 L287 414.71 L288 414.37 L289 414.04 L290 413.72 L291 413.41 L292 413.11 L293 412.81 L294 412.51 L295 412.21 L296 411.9 L297 411.59 L298 411.28 L299 410.95 L300 410.61 L301 410.26 L302 409.9 L303 409.52 L304 409.13 L305 408.73 L306 408.31 L307 407.89 L308 407.46 L309 407.02 L310 406.57 L311 406.11 L312 405.64 L313 405.17 L314 404.7 L315 404.21 L316 403.73 L317 403.24 L318 402.74 L319 402.25 L320 401.75 L321 401.25 L322 400.75 L323 400.25 L324 399.75 L325 399.25 L326 398.75 L327 398.26 L328 397.77 L329 397.28 L330 396.8 L331 396.32 L332 395.85 L333 395.38 L334 394.92 L335 394.47 L336 394.03 L337 393.59 L338 393.17 L339 392.75 L340 392.35 L341 391.95 L342 391.57 L343 391.19 L344 390.83 L345 390.48 L346 390.14 L347 389.8 L348 389.48 L349 389.17 L350 388.88 L351 388.59 L352 388.32 L353 388.05 L354 387.8 L355 387.57 L356 387.34 L357 387.12 L358 386.92 L359 386.73 L360 386.56 L361 386.39 L362 386.24 L363 386.1 L364 385.98 L365 385.86 L366 385.75 L367 385.66 L368 385.57 L369 385.49 L370 385.42 L371 385.36 L372 385.31 L373 385.27 L374 385.23 L375 385.2 L376 385.17 L377 385.15 L378 385.14 L379 385.13 L380 385.12 L381 385.12 L382 385.12 L383 385.12 L384 385.13 L385 385.14 L386 385.15 L387 385.16 L388 385.17 L389 385.18 L390 385.19 L391 385.2 L392 385.21 L393 385.22 L394 385.22 L395 385.22 L396 385.22 L397 385.22 L398 385.21 L399 385.2 L400 385.18 L401 385.16 L402 385.13 L403 385.09 L404 385.05 L405 385.01 L406 384.95 L407 384.89 L408 384.83 L409 384.77 L410 384.69 L411 384.62 L412 384.54 L413 384.46 L414 384.38 L415 384.29 L416 384.21 L417 384.12 L418 384.03 L419 383.94 L420 383.85 L421 383.76 L422 383.68 L423 383.59 L424 383.5 L425 383.42 L426 383.34 L427 383.26 L428 383.18 L429 383.11 L430 383.04 L431 382.98 L432 382.92 L433 382.87 L434 382.82 L435 382.75 L460 382.75 L535 382.75 L611 382.75" fill="none" stroke="#1f77b4" stroke-width="2.0833" stroke-linejoin="round" stroke-linecap="square" clip-path="url(#c5)"/>
<line x1="80.5" y1="434" x2="636.5" y2="434" stroke="#000" stroke-width="2.0833" stroke-dasharray="7.71 3.33" stroke-dashoffset="0.76"/>
<rect x="80.5" y="380.5" width="556" height="57" fill="none" stroke="#000" stroke-width="1.1111"/>
<path d="M75.64 384.5H80.5M75.64 434.5H80.5M105.5 437.5V442.36M189.5 437.5V442.36M274.5 437.5V442.36M358.5 437.5V442.36M442.5 437.5V442.36M526.5 437.5V442.36M611.5 437.5V442.36" stroke="#000" stroke-width="1.1111" fill="none"/>
</g>
<g>
<clipPath id="c6"><rect x="80.5" y="471.5" width="556" height="57"/></clipPath>
<path d="M105.5 499.8 L108.7 473.8 L122.2 473.8 L124.9 503.3 L125.8 514 L129.3 525.1 L261.1 525.1 L264.5 494 L268.2 473.8 L362.8 473.8 L366.2 525.1 L383 525.1 L386.6 520.7 L390.1 473.8 L431.1 473.8 L434.1 525.1 L444.6 525.1 L447.65 520.8 L450 520.8 L451 520.8 L452 520.53 L453 520.18 L454 519.74 L455 519.23 L456 518.66 L457 518.04 L458 517.39 L459 516.71 L460 516.03 L461 515.34 L462 514.66 L463 514 L464 513.36 L465 512.75 L466 512.16 L467 511.6 L468 511.05 L469 510.53 L470 510.03 L471 509.55 L472 509.1 L473 508.66 L474 508.24 L475 507.85 L476 507.47 L477 507.12 L478 506.78 L479 506.46 L480 506.16 L481 505.88 L482 505.61 L483 505.36 L484 505.12 L485 504.9 L486 504.7 L487 504.5 L488 504.32 L489 504.15 L490 504 L491 503.85 L492 503.72 L493 503.59 L494 503.47 L495 503.37 L496 503.27 L497 503.17 L498 503.09 L499 503.01 L500 502.93 L501 502.86 L502 502.8 L503 502.74 L504 502.68 L505 502.62 L506 502.57 L507 502.51 L508 502.46 L509 502.4 L510 502.35 L511 502.29 L512 502.24 L513 502.17 L514 502.11 L515 502.04 L516 501.97 L517 501.9 L518 501.83 L519 501.75 L520 501.67 L521 501.58 L522 501.5 L523 501.41 L524 501.32 L525 501.22 L526 501.13 L527 501.03 L528 500.92 L529 500.82 L530 500.71 L531 500.6 L532 500.49 L533 500.38 L534 500.26 L535 500.14 L536 500.02 L537 499.89 L538 499.77 L539 499.64 L540 499.51 L541 499.37 L542 499.24 L543 499.1 L544 498.96 L545 498.82 L546 498.67 L547 498.53 L548 498.38 L549 498.23 L550 498.08 L551 497.92 L552 497.77 L553 497.61 L554 497.45 L555 497.3 L556 497.14 L557 496.99 L558 496.83 L559 496.68 L560 496.53 L561 496.39 L562 496.24 L563 496.11 L564 495.97 L565 495.84 L566 495.72 L567 495.61 L568 495.5 L569 495.39 L570 495.3 L571 495.21 L572 495.13 L573 495.06 L574 495.01 L575 494.96 L576 494.92 L577 494.89 L578 494.88 L579 494.87 L580 494.88 L581 494.91 L582 494.94 L583 494.99 L584 495.05 L585 495.12 L586 495.2 L587 495.28 L588 495.38 L589 495.49 L590 495.6 L591 495.72 L592 495.84 L593 495.97 L594 496.1 L595 496.24 L596 496.38 L597 496.53 L598 496.67 L599 496.82 L600 496.96 L601 497.11 L602 497.26 L603 497.4 L604 497.54 L605 497.68 L606 497.82 L607 497.95 L608 498.07 L609 498.19 L610 498.31 L611 498.5" fill="none" stroke="#1f77b4" stroke-width="2.0833" stroke-linejoin="round" stroke-linecap="square" clip-path="url(#c6)"/>
<line x1="80.5" y1="500" x2="636.5" y2="500" stroke="#000" stroke-width="2.0833" stroke-dasharray="7.71 3.33" stroke-dashoffset="0.76"/>
<rect x="80.5" y="471.5" width="556" height="57" fill="none" stroke="#000" stroke-width="1.1111"/>
<path d="M75.64 474.5H80.5M75.64 500.5H80.5M75.64 525.5H80.5M105.5 528.5V533.36M189.5 528.5V533.36M274.5 528.5V533.36M358.5 528.5V533.36M442.5 528.5V533.36M526.5 528.5V533.36M611.5 528.5V533.36" stroke="#000" stroke-width="1.1111" fill="none"/>
</g>
<g>
<clipPath id="c7"><rect x="80.5" y="545.5" width="556" height="57"/></clipPath>
<path d="M105.5 573 L108.7 598.7 L112 547.8 L248 547.8 L251.1 557.3 L254.7 598.8 L362.8 598.8 L366.1 547.8 L380.2 547.8 L383.4 557.3 L386.8 598.8 L430.8 598.8 L434.1 547.8 L445.3 547.8 L447.65 548.9 L450.9 557.8 L454.5 561.75 L455.5 560.71 L456.5 560.15 L457.5 559.69 L458.5 559.32 L459.5 559.03 L460.5 558.82 L461.5 558.68 L462.5 558.6 L463.5 558.58 L464.5 558.61 L465.5 558.68 L466.5 558.79 L467.5 558.94 L468.5 559.11 L469.5 559.3 L470.5 559.51 L471.5 559.72 L472.5 559.94 L473.5 560.16 L474.5 560.37 L475.5 560.58 L476.5 560.79 L477.5 561 L478.5 561.2 L479.5 561.4 L480.5 561.6 L481.5 561.79 L482.5 561.99 L483.5 562.18 L484.5 562.37 L485.5 562.55 L486.5 562.74 L487.5 562.92 L488.5 563.1 L489.5 563.28 L490.5 563.46 L491.5 563.64 L492.5 563.81 L493.5 563.99 L494.5 564.16 L495.5 564.34 L496.5 564.51 L497.5 564.68 L498.5 564.85 L499.5 565.02 L500.5 565.19 L501.5 565.36 L502.5 565.53 L503.5 565.7 L504.5 565.87 L505.5 566.03 L506.5 566.2 L507.5 566.37 L508.5 566.54 L509.5 566.71 L510.5 566.88 L511.5 567.06 L512.5 567.23 L513.5 567.4 L514.5 567.58 L515.5 567.75 L516.5 567.93 L517.5 568.1 L518.5 568.28 L519.5 568.46 L520.5 568.65 L521.5 568.83 L522.5 569.02 L523.5 569.2 L524.5 569.39 L525.5 569.59 L526.5 569.78 L527.5 569.98 L528.5 570.18 L529.5 570.38 L530.5 570.58 L531.5 570.79 L532.5 571 L533.5 571.21 L534.5 571.43 L535.5 571.65 L536.5 571.87 L537.5 572.1 L538.5 572.33 L539.5 572.56 L540.5 572.8 L541.5 573.04 L542.5 573.29 L543.5 573.54 L544.5 573.79 L545.5 574.05 L546.5 574.31 L547.5 574.58 L548.5 574.85 L549.5 575.13 L550.5 575.41 L551.5 575.7 L552.5 575.99 L553.5 576.29 L554.5 576.59 L555.5 576.9 L556.5 577.21 L557.5 577.52 L558.5 577.83 L559.5 578.13 L560.5 578.42 L561.5 578.71 L562.5 578.98 L563.5 579.24 L564.5 579.48 L565.5 579.7 L566.5 579.9 L567.5 580.07 L568.5 580.22 L569.5 580.34 L570.5 580.42 L571.5 580.47 L572.5 580.49 L573.5 580.46 L574.4 580.4 L575.4 580.31 L576.4 580.18 L577.4 580.06 L578.4 579.92 L579.4 579.79 L580.4 579.64 L581.4 579.5 L582.4 579.34 L583.4 579.19 L584.4 579.03 L585.4 578.86 L586.4 578.69 L587.4 578.51 L588.4 578.34 L589.4 578.15 L590.4 577.97 L591.4 577.78 L592.4 577.59 L593.4 577.39 L594.4 577.2 L595.4 576.99 L596.4 576.79 L597.4 576.58 L598.4 576.38 L599.4 576.16 L600.4 575.95 L601.4 575.74 L602.4 575.52 L603.4 575.3 L604.4 575.08 L605.4 574.86 L606.4 574.64 L607.4 574.42 L608.4 574.19 L609.4 573.97 L610.4 573.74 L611 573.6" fill="none" stroke="#1f77b4" stroke-width="2.0833" stroke-linejoin="round" stroke-linecap="square" clip-path="url(#c7)"/>
<line x1="80.5" y1="573" x2="636.5" y2="573" stroke="#000" stroke-width="2.0833" stroke-dasharray="7.71 3.33" stroke-dashoffset="0.76"/>
<rect x="80.5" y="545.5" width="556" height="57" fill="none" stroke="#000" stroke-width="1.1111"/>
<path d="M75.64 548.5H80.5M75.64 573.5H80.5M75.64 599.5H80.5M105.5 602.5V607.36M189.5 602.5V607.36M274.5 602.5V607.36M358.5 602.5V607.36M442.5 602.5V607.36M526.5 602.5V607.36M611.5 602.5V607.36" stroke="#000" stroke-width="1.1111" fill="none"/>
</g>
<g>
<clipPath id="c8"><rect x="80.5" y="616.5" width="556" height="57"/></clipPath>
<path d="M105.3 670.5 L109 631.25 L110 631.26 L111 631.27 L112 631.28 L113 631.29 L114 631.3 L115 631.31 L116 631.31 L117 631.32 L118 631.33 L119 631.33 L120 631.34 L121 631.34 L122 631.35 L123 631.35 L124 631.36 L125 631.36 L126 631.36 L127 631.37 L128 631.37 L129 631.37 L130 631.38 L131 631.38 L132 631.38 L133 631.38 L134 631.38 L135 631.38 L136 631.38 L137 631.38 L138 631.38 L139 631.38 L140 631.38 L141 631.38 L142 631.38 L143 631.37 L144 631.37 L145 631.37 L146 631.37 L147 631.36 L148 631.36 L149 631.36 L150 631.35 L151 631.35 L152 631.34 L153 631.34 L154 631.33 L155 631.33 L156 631.32 L157 631.32 L158 631.31 L159 631.31 L160 631.3 L161 631.29 L162 631.29 L163 631.28 L164 631.27 L165 631.26 L166 631.26 L167 631.25 L168 631.24 L169 631.23 L170 631.22 L171 631.22 L172 631.21 L173 631.2 L174 631.19 L175 631.18 L176 631.17 L177 631.16 L178 631.15 L179 631.14 L180 631.13 L181 631.12 L182 631.11 L183 631.1 L184 631.09 L185 631.08 L186 631.07 L187 631.05 L188 631.04 L189 631.03 L190 631.02 L191 631.01 L192 631 L193 630.98 L194 630.97 L195 630.96 L196 630.95 L197 630.94 L198 630.92 L199 630.91 L200 630.9 L201 630.89 L202 630.87 L203 630.86 L204 630.85 L205 630.83 L206 630.82 L207 630.81 L208 630.79 L209 630.78 L210 630.77 L211 630.75 L212 630.74 L213 630.73 L214 630.71 L215 630.7 L216 630.69 L217 630.67 L218 630.66 L219 630.65 L220 630.63 L221 630.62 L222 630.61 L223 630.59 L224 630.58 L225 630.57 L226 630.55 L227 630.54 L228 630.52 L229 630.51 L230 630.5 L231 630.48 L232 630.47 L233 630.46 L234 630.44 L235 630.43 L236 630.42 L237 630.4 L238 630.39 L239 630.38 L240 630.36 L241 630.35 L242 630.34 L243 630.33 L244 630.31 L245 630.3 L246 630.29 L247 630.28 L248 630.26 L249 630.25 L250 630.24 L251 630.23 L252 630.21 L253 630.2 L254 630.19 L255 630.18 L256 630.17 L257 630.15 L258 630.14 L259 630.13 L260 630.12 L261 630.11 L262 630.1 L263 630.09 L264 630.08 L265 630.07 L266 630.06 L267 630.05 L268 630.04 L269 630.03 L270 630.02 L271 630.01 L272 630 L273 629.99 L274 629.98 L275 629.97 L276 629.96 L277 629.95 L278 629.95 L279 629.94 L280 629.93 L281 629.92 L282 629.92 L283 629.91 L284 629.9 L285 629.89 L286 629.89 L287 629.88 L288 629.88 L289 629.87 L290 629.86 L291 629.86 L292 629.85 L293 629.85 L294 629.84 L295 629.84 L296 629.84 L297 629.83 L298 629.83 L299 629.83 L300 629.82 L301 629.82 L302 629.82 L303 629.82 L304 629.81 L305 629.81 L306 629.81 L307 629.81 L308 629.81 L309 629.81 L310 629.81 L311 629.81 L312 629.8 L313 629.66 L314 629.6 L315 629.53 L316 629.46 L317 629.39 L318 629.32 L319 629.25 L320 629.17 L321 629.09 L322 629.01 L323 628.93 L324 628.84 L325 628.76 L326 628.67 L327 628.58 L328 628.49 L329 628.39 L330 628.3 L331 628.2 L332 628.1 L333 628 L334 627.9 L335 627.8 L336 627.69 L337 627.59 L338 627.48 L339 627.37 L340 627.26 L341 627.15 L342 627.03 L343 626.92 L344 626.81 L345 626.69 L346 626.57 L347 626.46 L348 626.34 L349 626.22 L350 626.1 L351 625.98 L352 625.85 L353 625.73 L354 625.61 L355 625.48 L356 625.36 L357 625.23 L358 625.11 L359 624.98 L360 624.86 L361 624.73 L362 624.6 L363 624.48 L364 624.35 L365 624.22 L366 624.1 L367 623.97 L368 623.84 L369 623.71 L370 623.59 L371 623.46 L372 623.33 L373 623.2 L374 623.08 L375 622.95 L376 622.83 L377 622.7 L378 622.57 L379 622.45 L380 622.33 L381 622.2 L382 622.08 L383 621.96 L384 621.83 L385 621.71 L386 621.59 L387 621.47 L388 621.36 L389 621.24 L390 621.12 L391 621.01 L392 620.89 L393 620.78 L394 620.67 L395 620.56 L396 620.45 L397 620.34 L398 620.24 L399 620.14 L400 620.04 L401 619.95 L402 619.86 L403 619.77 L404 619.68 L405 619.6 L406 619.53 L407 619.45 L408 619.38 L409 619.32 L410 619.26 L411 619.21 L412 619.16 L413 619.11 L414 619.07 L415 619.04 L416 619.01 L417 618.99 L418 618.98 L419 618.97 L420 618.97 L421 618.97 L422 618.98 L423 619 L424 619.02 L425 619.05 L426 619.08 L427 619.12 L428 619.16 L429 619.2 L430 619.25 L431 619.3 L432 619.35 L433 619.41 L434 619.47 L435 619.53 L436 619.59 L437 619.65 L438 619.72 L439 619.78 L440 619.85 L441 619.91 L442 619.98 L443 620.04 L444 620.11 L445 620.17 L446 620.23 L447 620.29 L448 620.35 L449 620.4 L450 620.45 L451 620.5 L452 620.55 L453 620.59 L454 620.64 L455 620.68 L456 620.72 L457 620.75 L458 620.78 L459 620.82 L460 620.84 L461 620.87 L462 620.9 L463 620.92 L464 620.94 L465 620.96 L466 620.98 L467 620.99 L468 621.01 L469 621.02 L470 621.03 L471 621.04 L472 621.05 L473 621.05 L474 621.06 L475 621.06 L476 621.06 L477 621.06 L478 621.06 L479 621.06 L480 621.06 L481 621.05 L482 621.05 L483 621.04 L484 621.03 L485 621.02 L486 621.01 L487 621 L488 620.99 L489 620.98 L490 620.97 L491 620.95 L492 620.94 L493 620.92 L494 620.91 L495 620.89 L496 620.88 L497 620.86 L498 620.84 L499 620.82 L500 620.8 L501 620.79 L502 620.77 L503 620.75 L504 620.73 L505 620.71 L506 620.69 L507 620.67 L508 620.66 L509 620.64 L510 620.62 L511 620.6 L512 620.58 L513 620.56 L514 620.54 L515 620.53 L516 620.51 L517 620.49 L518 620.47 L519 620.46 L520 620.44 L521 620.43 L522 620.41 L523 620.39 L524 620.38 L525 620.36 L526 620.35 L527 620.34 L528 620.32 L529 620.31 L530 620.3 L531 620.29 L532 620.28 L533 620.26 L534 620.25 L535 620.25 L536 620.24 L537 620.23 L538 620.22 L539 620.21 L540 620.21 L541 620.2 L542 620.2 L543 620.2 L544 620.19 L545 620.19 L546 620.19 L547 620.19 L548 620.19 L549 620.19 L550 620.19 L551 620.2 L552 620.2 L553 620.21 L554 620.21 L555 620.22 L556 620.23 L557 620.24 L558 620.25 L559 620.26 L560 620.27 L561 620.29 L562 620.3 L563 620.32 L564 620.34 L565 620.36 L566 620.38 L567 620.4 L568 620.42 L569 620.44 L570 620.47 L571 620.5 L572 620.52 L573 620.55 L574 620.58 L575 620.62 L576 620.65 L577 620.69 L578 620.72 L579 620.76 L580 620.8 L581 620.84 L582 620.75 L589 620.5 L597.5 620.05 L611 619.35" fill="none" stroke="#1f77b4" stroke-width="2.0833" stroke-linejoin="round" stroke-linecap="square" clip-path="url(#c8)"/>
<rect x="80.5" y="616.5" width="556" height="57" fill="none" stroke="#000" stroke-width="1.1111"/>
<path d="M75.64 637.5H80.5M75.64 668.5H80.5M105.5 673.5V678.36M189.5 673.5V678.36M274.5 673.5V678.36M358.5 673.5V678.36M442.5 673.5V678.36M526.5 673.5V678.36M611.5 673.5V678.36" stroke="#000" stroke-width="1.1111" fill="none"/>
</g>
<text x="68.35" y="85.04" font-size="14.1" text-anchor="end" textLength="40.7" lengthAdjust="spacingAndGlyphs">−0.25</text>
<text x="69.7" y="63.29" font-size="14.1" text-anchor="end" textLength="29" lengthAdjust="spacingAndGlyphs">0.00</text>
<text x="68.7" y="42.53" font-size="14.1" text-anchor="end" textLength="28" lengthAdjust="spacingAndGlyphs">0.25</text>
<text transform="translate(15.73 53.15) rotate(-90)" x="0" y="0" font-size="14.1" text-anchor="middle" textLength="30.7" lengthAdjust="spacingAndGlyphs"><tspan font-style="italic">q</tspan><tspan font-size="10.6" dy="2.2">1</tspan><tspan dy="-2.2">(</tspan><tspan font-style="italic">t</tspan>)</text>
<text x="358" y="15.9" font-size="16.9" text-anchor="middle" textLength="145" lengthAdjust="spacingAndGlyphs">State Trajectories</text>
<text x="69.7" y="139.33" font-size="14.1" text-anchor="end" textLength="20" lengthAdjust="spacingAndGlyphs">0.0</text>
<text x="69.7" y="117.38" font-size="14.1" text-anchor="end" textLength="20" lengthAdjust="spacingAndGlyphs">0.5</text>
<text transform="translate(36.63 124.15) rotate(-90)" x="0" y="0" font-size="14.1" text-anchor="middle" textLength="30.7" lengthAdjust="spacingAndGlyphs"><tspan font-style="italic">q</tspan><tspan font-size="10.6" dy="2.2">2</tspan><tspan dy="-2.2">(</tspan><tspan font-style="italic">t</tspan>)</text>
<text x="70.7" y="226.15" font-size="14.1" text-anchor="end" textLength="8" lengthAdjust="spacingAndGlyphs">0</text>
<text x="69.35" y="197.88" font-size="14.1" text-anchor="end" textLength="8.7" lengthAdjust="spacingAndGlyphs">5</text>
<text transform="translate(49.27 194.15) rotate(-90)" x="0" y="0" font-size="14.1" text-anchor="middle" textLength="30.7" lengthAdjust="spacingAndGlyphs"><tspan font-style="italic">q</tspan><tspan font-size="10.6" dy="2.2">3</tspan><tspan dy="-2.2">(</tspan><tspan font-style="italic">t</tspan>)</text>
<text x="68.35" y="298.12" font-size="14.1" text-anchor="end" textLength="18.7" lengthAdjust="spacingAndGlyphs">−1</text>
<text x="70.7" y="277.15" font-size="14.1" text-anchor="end" textLength="8" lengthAdjust="spacingAndGlyphs">0</text>
<text x="70.35" y="255.88" font-size="14.1" text-anchor="end" textLength="7.7" lengthAdjust="spacingAndGlyphs">1</text>
<text transform="translate(37.36 265.15) rotate(-90)" x="0" y="0" font-size="14.1" text-anchor="middle" textLength="30.7" lengthAdjust="spacingAndGlyphs"><tspan font-style="italic">u</tspan><tspan font-size="10.6" dy="2.2">1</tspan><tspan dy="-2.2">(</tspan><tspan font-style="italic">t</tspan>)</text>
<text x="68.35" y="363.53" font-size="14.1" text-anchor="end" textLength="18.7" lengthAdjust="spacingAndGlyphs">−2</text>
<text x="70.7" y="332.15" font-size="14.1" text-anchor="end" textLength="8" lengthAdjust="spacingAndGlyphs">0</text>
<text transform="translate(37.72 337.15) rotate(-90)" x="0" y="0" font-size="14.1" text-anchor="middle" textLength="30.7" lengthAdjust="spacingAndGlyphs"><tspan font-style="italic">u</tspan><tspan font-size="10.6" dy="2.2">2</tspan><tspan dy="-2.2">(</tspan><tspan font-style="italic">t</tspan>)</text>
<text x="70.7" y="440.15" font-size="14.1" text-anchor="end" textLength="8" lengthAdjust="spacingAndGlyphs">0</text>
<text x="69.35" y="389.88" font-size="14.1" text-anchor="end" textLength="8.7" lengthAdjust="spacingAndGlyphs">5</text>
<text transform="translate(49.46 409.15) rotate(-90)" x="0" y="0" font-size="14.1" text-anchor="middle" textLength="30.7" lengthAdjust="spacingAndGlyphs"><tspan font-style="italic">u</tspan><tspan font-size="10.6" dy="2.2">3</tspan><tspan dy="-2.2">(</tspan><tspan font-style="italic">t</tspan>)</text>
<text x="68.35" y="531.03" font-size="14.1" text-anchor="end" textLength="36.7" lengthAdjust="spacingAndGlyphs">−100</text>
<text x="70.7" y="505.15" font-size="14.1" text-anchor="end" textLength="8" lengthAdjust="spacingAndGlyphs">0</text>
<text x="68.35" y="479.71" font-size="14.1" text-anchor="end" textLength="23.7" lengthAdjust="spacingAndGlyphs">100</text>
<text transform="translate(19.66 501.35) rotate(-90)" x="0" y="0" font-size="14.1" text-anchor="middle" textLength="31.1" lengthAdjust="spacingAndGlyphs"><tspan font-style="italic">T</tspan><tspan font-size="10.6" dy="2.2">1</tspan><tspan dy="-2.2">(</tspan><tspan font-style="italic">t</tspan>)</text>
<text x="358.3" y="463" font-size="16.9" text-anchor="middle" textLength="144.2" lengthAdjust="spacingAndGlyphs">Input Trajectories</text>
<text x="68.35" y="604.03" font-size="14.1" text-anchor="end" textLength="36.7" lengthAdjust="spacingAndGlyphs">−100</text>
<text x="70.7" y="579.15" font-size="14.1" text-anchor="end" textLength="8" lengthAdjust="spacingAndGlyphs">0</text>
<text x="68.35" y="552.71" font-size="14.1" text-anchor="end" textLength="23.7" lengthAdjust="spacingAndGlyphs">100</text>
<text transform="translate(19.65 575.35) rotate(-90)" x="0" y="0" font-size="14.1" text-anchor="middle" textLength="31.1" lengthAdjust="spacingAndGlyphs"><tspan font-style="italic">T</tspan><tspan font-size="10.6" dy="2.2">2</tspan><tspan dy="-2.2">(</tspan><tspan font-style="italic">t</tspan>)</text>
<text x="68.35" y="674.09" font-size="14.1" text-anchor="end" textLength="18.7" lengthAdjust="spacingAndGlyphs">−5</text>
<text x="70.7" y="643.15" font-size="14.1" text-anchor="end" textLength="8" lengthAdjust="spacingAndGlyphs">0</text>
<text transform="translate(37.44 645.15) rotate(-90)" x="0" y="0" font-size="14.1" text-anchor="middle" textLength="24.7" lengthAdjust="spacingAndGlyphs"><tspan font-style="italic">ϕ</tspan>(<tspan font-style="italic">t</tspan>)</text>
<text x="105.5" y="693.26" font-size="14.1" text-anchor="middle" textLength="20" lengthAdjust="spacingAndGlyphs">0.0</text>
<text x="189.5" y="693.3" font-size="14.1" text-anchor="middle" textLength="20" lengthAdjust="spacingAndGlyphs">0.5</text>
<text x="273.65" y="692.64" font-size="14.1" text-anchor="middle" textLength="19.7" lengthAdjust="spacingAndGlyphs">1.0</text>
<text x="357.65" y="692.83" font-size="14.1" text-anchor="middle" textLength="19.7" lengthAdjust="spacingAndGlyphs">1.5</text>
<text x="442" y="692.95" font-size="14.1" text-anchor="middle" textLength="21" lengthAdjust="spacingAndGlyphs">2.0</text>
<text x="526" y="693.06" font-size="14.1" text-anchor="middle" textLength="21" lengthAdjust="spacingAndGlyphs">2.5</text>
<text x="610.5" y="692.98" font-size="14.1" text-anchor="middle" textLength="20" lengthAdjust="spacingAndGlyphs">3.0</text>
<text x="357.5" y="713.46" font-size="14.1" text-anchor="middle" textLength="34" lengthAdjust="spacingAndGlyphs">Time</text>
</svg>
</body></html>
